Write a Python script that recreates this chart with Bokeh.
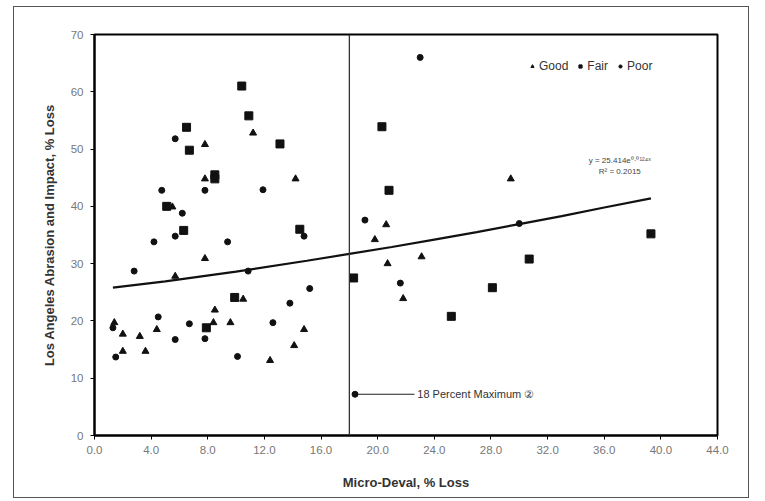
from bokeh.plotting import figure
from bokeh.models import (Range1d, FixedTicker, PrintfTickFormatter, Span, Label,
                          Legend, LegendItem)
from bokeh.embed import file_html
from bokeh.resources import INLINE

# ---- data ----
good_x = [11.2, 7.8, 7.8, 14.2, 5.5, 7.8, 5.7, 10.5, 8.5, 1.4, 2.0, 3.2, 4.4, 8.4, 9.6,
          12.4, 14.8, 14.1, 2.0, 3.6, 29.4, 20.6, 19.8, 23.1, 20.7, 21.8]
good_y = [52.8, 50.8, 44.8, 44.8, 39.9, 30.9, 27.8, 23.8, 21.9, 19.7, 17.7, 17.3, 18.5, 19.7, 19.7,
          13.1, 18.5, 15.7, 14.7, 14.7, 44.8, 36.8, 34.2, 31.2, 30.0, 23.9]

fair_x = [10.4, 10.9, 6.5, 6.7, 13.1, 8.5, 8.5, 5.1, 6.3, 14.5, 9.9, 7.9, 18.3, 20.8,
          20.3, 39.3, 30.7, 28.1, 25.2]
fair_y = [61.0, 55.8, 53.8, 49.8, 50.9, 45.5, 44.8, 40.0, 35.8, 36.0, 24.1, 18.8, 27.5, 42.8,
          53.9, 35.2, 30.8, 25.8, 20.8]

poor_x = [5.7, 7.8, 4.75, 11.9, 6.2, 5.7, 4.2, 9.4, 14.8, 2.8, 10.85, 4.5, 1.3, 5.7, 6.7,
          7.8, 10.1, 12.6, 13.8, 15.2, 1.5, 19.1, 30.0, 21.6, 23.0]
poor_y = [51.8, 42.8, 42.8, 42.9, 38.8, 34.8, 33.8, 33.8, 34.8, 28.7, 28.7, 20.7, 18.8, 16.75, 19.5,
          16.9, 13.8, 19.7, 23.1, 25.65, 13.7, 37.6, 37.0, 26.6, 66.0]

# trend line points
trend_x = [1.3, 5.0, 10.0, 15.0, 18.0, 21.0, 24.0, 27.0, 30.0, 33.0, 36.0, 39.3]
trend_y = [25.8, 26.9, 28.6, 30.5, 31.7, 32.9, 34.2, 35.5, 36.9, 38.3, 39.8, 41.4]

x_ticks = [0, 4, 8, 12, 16, 20, 24, 28, 32, 36, 40, 44]
y_ticks = [0, 10, 20, 30, 40, 50, 60, 70]

limit_x = 18.0
annot_pt_x = [18.4]
annot_pt_y = [7.2]
annot_line_x = [18.4, 22.6]
annot_line_y = [7.2, 7.2]
annot_text = "18 Percent Maximum ②"
eq_text1 = "y = 25.414e⁰·⁰¹²⁴ˣ"
eq_text2 = "R² = 0.2015"

FONT = "Liberation Sans"
INK = "#111111"

p = figure(width=736, height=492, output_backend="svg", toolbar_location=None,
           x_range=Range1d(0, 44), y_range=Range1d(0, 70),
           min_border_left=80, min_border_right=33, min_border_top=27, min_border_bottom=64)
p.styles = {"border": "1px solid #555555", "margin-left": "13px", "margin-top": "6px"}

p.xgrid.visible = False
p.ygrid.visible = False
p.outline_line_color = "black"
p.outline_line_width = 2
p.background_fill_color = "white"
p.border_fill_color = "white"

for ax in (p.xaxis[0], p.yaxis[0]):
    ax.axis_line_width = 2
    ax.axis_line_color = "black"
    ax.major_tick_out = 4
    ax.major_tick_in = 0
    ax.major_tick_line_color = "black"
    ax.minor_tick_line_color = None
    ax.major_label_text_font = FONT
    ax.major_label_text_font_size = "11.5px"
    ax.major_label_text_color = "#777777"
    ax.axis_label_text_font = FONT
    ax.axis_label_text_font_size = "13px"
    ax.axis_label_text_font_style = "bold"
    ax.axis_label_text_color = "#333333"

p.xaxis[0].ticker = FixedTicker(ticks=x_ticks)
p.xaxis[0].formatter = PrintfTickFormatter(format="%.1f")
p.xaxis[0].axis_label = "Micro-Deval, % Loss"
p.xaxis[0].major_label_standoff = 6
p.xaxis[0].axis_label_standoff = 18

p.yaxis[0].ticker = FixedTicker(ticks=y_ticks)
p.yaxis[0].axis_label = "Los Angeles Abrasion and Impact, % Loss"
p.yaxis[0].major_label_standoff = 7
p.yaxis[0].axis_label_standoff = 11

p.add_layout(Span(location=limit_x, dimension="height", line_color="#333333", line_width=1.3))

p.line(trend_x, trend_y, line_color=INK, line_width=2.2)

r_good = p.scatter(good_x, good_y, marker="triangle", size=7, color=INK)
r_fair = p.scatter(fair_x, fair_y, marker="square", size=8, color=INK)
r_poor = p.scatter(poor_x, poor_y, marker="circle", size=6, color=INK)

# annotation for the 18 percent limit
p.line(annot_line_x, annot_line_y, line_color="#222222", line_width=1.2)
p.scatter(annot_pt_x, annot_pt_y, marker="circle", size=6, color=INK)
p.add_layout(Label(x=22.8, y=7.2, text=annot_text, text_baseline="middle",
                   text_font=FONT, text_font_size="11px", text_color="#333333"))

p.add_layout(Label(x=37.1, y=48.0, text=eq_text1, text_align="center", text_baseline="middle",
                   text_font=FONT, text_font_size="8px", text_color="#444444"))
p.add_layout(Label(x=37.1, y=46.0, text=eq_text2, text_align="center", text_baseline="middle",
                   text_font=FONT, text_font_size="8px", text_color="#444444"))

legend = Legend(items=[LegendItem(label="Good", renderers=[r_good]),
                       LegendItem(label="Fair", renderers=[r_fair]),
                       LegendItem(label="Poor", renderers=[r_poor])],
                orientation="horizontal", location="top_right",
                background_fill_alpha=0, border_line_alpha=0,
                label_text_font=FONT, label_text_font_size="12px", label_text_color="#333333",
                glyph_width=8, glyph_height=10, label_standoff=3, spacing=8,
                padding=0, margin=0, label_height=12)
legend.margin = 0
p.add_layout(legend)
legend.location = (434, 362)

open("out.html", "w").write(file_html(p, INLINE))
